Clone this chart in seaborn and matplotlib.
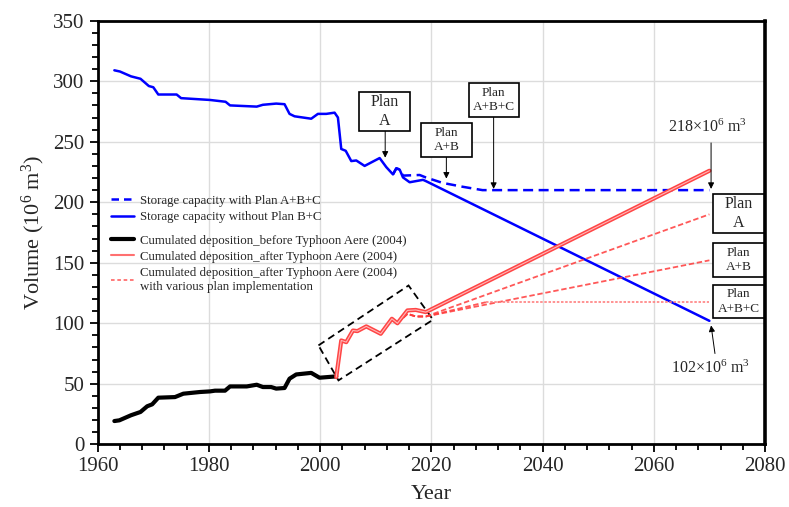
import numpy as np
import pandas as pd
import seaborn as sns
import matplotlib.pyplot as plt
from matplotlib.lines import Line2D
from matplotlib.patches import Polygon, Rectangle

# storage capacity without plan B+C (blue solid)
cap_years = [1963, 1964, 1966, 1967.7, 1969.2, 1970, 1970.9, 1974.2, 1975, 1980.2,
             1983, 1983.8, 1988.6, 1989.7, 1992.1, 1993.6, 1994.5, 1995.4, 1998.4,
             1999.6, 2001.1, 2002.6, 2003.2, 2003.8, 2004.6, 2005.6, 2006.5, 2008,
             2010.7, 2011.9, 2013.1, 2013.7, 2014.3, 2014.9, 2016.1, 2018.5, 2019, 2070]
cap_vals = [309, 308, 304, 302, 296, 295, 289, 289, 286, 284.5,
            283, 280, 279, 280.5, 281.5, 281, 273, 271, 269,
            273, 273, 274, 270, 244, 242.5, 234, 234.5, 230,
            236.5, 229, 223, 228, 227, 220.5, 216.5, 218.5, 217.5, 102]

# storage capacity with plan A+B+C (blue dashed)
plan_years = [2013.1, 2013.7, 2014.3, 2014.9, 2017.9, 2019, 2022, 2025.6, 2029.2, 2031, 2070]
plan_vals = [223, 228, 227, 222, 222.5, 220.5, 216, 212.8, 210, 210, 210]

# cumulated deposition before typhoon Aere (black)
dep_years = [1963, 1963.9, 1966, 1967.7, 1968.9, 1969.8, 1970.9, 1973.9, 1975.4, 1978.4,
             1980.2, 1981.1, 1982.9, 1983.8, 1986.8, 1988.6, 1989.7, 1991.2, 1992.1,
             1993.6, 1994.5, 1995.7, 1998.4, 1999.9, 2002.9]
dep_vals = [19.2, 19.8, 24, 26.7, 31.4, 33, 38.5, 39, 41.8, 43.2,
            43.7, 44.3, 44.3, 47.8, 47.8, 49.2, 47.3, 47.3, 46,
            46.5, 54.2, 57.7, 59, 55, 56.1]

# cumulated deposition after typhoon Aere (red)
aft_years = [2002.9, 2003.8, 2004.7, 2005.9, 2006.7, 2008.3, 2010.9, 2012.9, 2013.9,
             2015.7, 2017.2, 2019, 2070]
aft_vals = [55.5, 85.8, 84.4, 94, 93.5, 97.4, 91.3, 103.7, 100, 110.6, 111, 109.2, 226]

# with plan implementation (red dashed)
base_years = [2013.9, 2015.7, 2017.2, 2019]
base_vals = [100, 107.8, 105.6, 105.6]
planA_years = base_years + [2070]
planA_vals = base_vals + [190]
planAB_years = base_years + [2070]
planAB_vals = base_vals + [152]
planABC_years = base_years + [2029.8]
planABC_vals = base_vals + [117.4]
flat_years = [2029.8, 2070]
flat_vals = [117.4, 117.4]

# dashed highlight box corners (year, volume)
box_years = [1999.7, 2015.9, 2020.3, 2003.3]
box_vals = [81.7, 131.2, 102.9, 52.8]

# plan label boxes: label, (x0, x1), (y0, y1), font size, arrow tip or None
plan_labels = ['Plan\nA', 'Plan\nA+B', 'Plan\nA+B+C', 'Plan\nA', 'Plan\nA+B', 'Plan\nA+B+C']
plan_x = [(2007.0, 2016.2), (2018.1, 2027.3), (2026.7, 2035.7),
          (2070.7, 2079.8), (2070.7, 2079.8), (2070.7, 2079.8)]
plan_y = [(258.9, 291.2), (237.4, 265.5), (270.4, 298.5),
          (174.6, 206.8), (138.3, 166.4), (104.4, 131.7)]
plan_fs = [11.5, 9.5, 9.5, 11.5, 9.5, 9.5]
plan_tips = [(2011.7, 236.8), (2022.7, 219.5), (2031.2, 211), None, None, None]

sns.set_style('white')
plt.rcParams['font.family'] = ['Liberation Serif', 'DejaVu Serif']
plt.rcParams['mathtext.fontset'] = 'custom'
plt.rcParams['mathtext.rm'] = 'Liberation Serif'
plt.rcParams['mathtext.it'] = 'Liberation Serif:italic'

fig = plt.figure(figsize=(7.89, 5.07), dpi=100)
ax = fig.add_axes([0.1238, 0.1237, 0.8458, 0.8355])

blue = '#0000ff'
red = '#ff3b3b'

ax.grid(True, color='#dcdcdc', lw=1)
ax.set_axisbelow(True)

sns.lineplot(x=cap_years, y=cap_vals, ax=ax, color=blue, lw=1.8, estimator=None, sort=False)
sns.lineplot(x=plan_years, y=plan_vals, ax=ax, color=blue, lw=1.8, ls=(0, (4, 2.2)),
             estimator=None, sort=False)
sns.lineplot(x=dep_years, y=dep_vals, ax=ax, color='black', lw=3, estimator=None, sort=False)
for xs, ys in [(planA_years, planA_vals), (planAB_years, planAB_vals),
               (planABC_years, planABC_vals)]:
    sns.lineplot(x=xs, y=ys, ax=ax, color=red, lw=1.3, ls=(0, (3, 1.5)), alpha=0.85,
                 estimator=None, sort=False)
sns.lineplot(x=flat_years, y=flat_vals, ax=ax, color='#ff8080', lw=1.2, ls=(0, (1.5, 1)),
             estimator=None, sort=False)
sns.lineplot(x=aft_years, y=aft_vals, ax=ax, color='#ff4545', lw=3, estimator=None, sort=False)
sns.lineplot(x=aft_years, y=aft_vals, ax=ax, color='#ffb8b8', lw=0.8, estimator=None, sort=False)

ax.add_patch(Polygon(list(zip(box_years, box_vals)), closed=True, fill=False,
                     ec='black', lw=1.3, ls=(0, (4, 2.5))))

ax.set_xlim(1960, 2080)
ax.set_ylim(0, 350)
ax.set_xticks(np.arange(1960, 2081, 20))
ax.set_yticks(np.arange(0, 351, 50))
ax.set_xticks(np.arange(1960, 2081, 4), minor=True)
ax.set_yticks(np.arange(0, 351, 10), minor=True)
ax.tick_params(which='both', direction='out', left=True, bottom=True, color='black', width=1.3)
ax.tick_params(which='major', length=6, labelsize=15)
ax.tick_params(which='minor', length=4)
for s in ax.spines.values():
    s.set_color('black')
    s.set_linewidth(2)
ax.spines['right'].set_linewidth(2.6)
ax.set_xlabel('Year', fontsize=16, labelpad=6)
ax.set_ylabel('Volume (10$^6$ m$^3$)', fontsize=16, labelpad=4.5)

arrow = dict(arrowstyle='-|>', color='black', lw=0.7, mutation_scale=9, shrinkA=0, shrinkB=0)

for lab, (x0, x1), (y0, y1), fs, tip in zip(plan_labels, plan_x, plan_y, plan_fs, plan_tips):
    ax.add_patch(Rectangle((x0, y0), x1 - x0, y1 - y0, fc='white', ec='black', lw=1.2,
                           zorder=5, clip_on=False))
    ax.text((x0 + x1) / 2, (y0 + y1) / 2, lab, fontsize=fs, ha='center', va='center',
            linespacing=1.3, zorder=6)
    if tip is not None:
        ax.annotate('', xy=tip, xytext=(tip[0], y0), arrowprops=arrow)

ax.annotate('', xy=(2070.3, 211), xytext=(2070.3, 249), arrowprops=arrow)
ax.text(2069.6, 261.5, '218$\\times$10$^6$ m$^3$', fontsize=11.5, ha='center', va='center')
ax.annotate('', xy=(2070.3, 98.2), xytext=(2071, 75), arrowprops=arrow)
ax.text(2070.2, 62.7, '102$\\times$10$^6$ m$^3$', fontsize=11.5, ha='center', va='center')

# legends
h1 = [Line2D([], [], color=blue, lw=1.8, ls=(0, (3, 2))),
      Line2D([], [], color=blue, lw=1.8)]
l1 = ['Storage capacity with Plan A+B+C', 'Storage capacity without Plan B+C']
h2 = [Line2D([], [], color='black', lw=3),
      Line2D([], [], color='#ff7070', lw=1.5),
      Line2D([], [], color='#ff7070', lw=1.3, ls=(0, (2, 1.5)))]
l2 = ['Cumulated deposition_before Typhoon Aere (2004)',
      'Cumulated deposition_after Typhoon Aere (2004)',
      'Cumulated deposition_after Typhoon Aere (2004)\nwith various plan implementation']
kw = dict(loc='upper left', frameon=False, fontsize=9.3, handlelength=1.8,
          handletextpad=0.45, borderaxespad=0, borderpad=0, labelspacing=0.33)
leg1 = ax.legend(h1, l1, bbox_to_anchor=(0.0195, 0.589), **kw)
ax.add_artist(leg1)
ax.legend(h2, l2, bbox_to_anchor=(0.0195, 0.495), **kw)

fig.savefig('out.png', dpi=100)
